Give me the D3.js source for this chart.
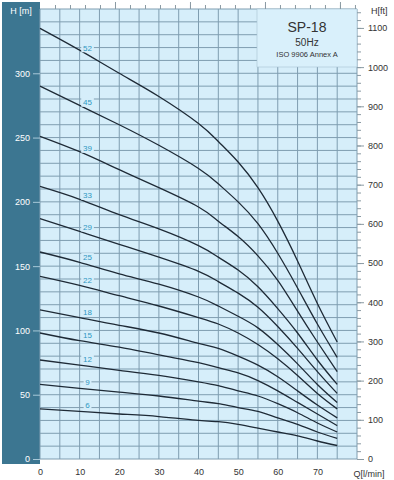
<!DOCTYPE html>
<html>
<head>
<meta charset="utf-8">
<script src="https://cdn.jsdelivr.net/npm/d3@7"></script>
<style>
  body { margin: 0; background: #fff; }
  svg { display: block; font-family: "Liberation Sans", Arial, sans-serif; }
</style>
</head>
<body>
<div class="chart"></div>
<script>
// flow points (l/min) where the curves were read
var flow = [0, 10, 20, 30, 40, 45, 50, 55, 60, 65, 70, 75]

// head in metres for each number of stages
var h52 = [335, 318, 300, 282, 261, 247, 231, 211, 185, 154, 121, 91]
var h45 = [290, 275, 260, 244, 226, 214, 200, 183, 160, 133, 105, 79]
var h39 = [251, 239, 225, 211, 196, 185, 173, 158, 139, 115, 91, 68]
var h33 = [212, 202, 190, 179, 166, 157, 147, 134, 117, 98, 77, 58]
var h29 = [187, 177, 167, 157, 146, 138, 129, 118, 103, 86, 68, 51]
var h25 = [161, 153, 144, 136, 126, 119, 111, 102, 89, 74, 58, 44]
var h22 = [142, 135, 127, 119, 110, 105, 98, 89, 78, 65, 51, 39]
var h18 = [116, 110, 104, 98, 90, 86, 80, 73, 64, 53, 42, 32]
var h15 = [98, 92, 87, 81, 75, 71, 67, 61, 53, 44, 35, 26]
var h12 = [77, 73, 69, 65, 60, 57, 53, 49, 43, 36, 28, 21]
var h9 = [58, 55, 52, 49, 45, 43, 40, 37, 32, 27, 21, 16]
var h6 = [39, 37, 35, 33, 30, 29, 27, 24, 21, 18, 14, 10.5]

var stages = ["52", "45", "39", "33", "29", "25", "22", "18", "15", "12", "9", "6"]
var heads = [h52, h45, h39, h33, h29, h25, h22, h18, h15, h12, h9, h6]

var xTicks = [0, 10, 20, 30, 40, 50, 60, 70]
var yTicks = [0, 50, 100, 150, 200, 250, 300]
var ftTicks = [0, 100, 200, 300, 400, 500, 600, 700, 800, 900, 1000, 1100]

var bg = "#d6eefa"
var gridColor = "#7f9db0"

var svg = d3.select(".chart")
    .append("svg")
    .attr("width", 394)
    .attr("height", 480)

var x = d3.scaleLinear().domain([0, 80]).range([40, 357])
var y = d3.scaleLinear().domain([0, 350]).range([459, 9])
var yFt = d3.scaleLinear().domain([0, 350 / 0.3048]).range([459, 9])
var xGpm = d3.scaleLinear().domain([0, 80 / 3.785]).range([40, 357])

// left panel
svg.append("rect")
    .attr("x", 2)
    .attr("y", 2)
    .attr("width", 38)
    .attr("height", 462)
    .attr("fill", "#3c7691")

// plot background
svg.append("rect")
    .attr("x", x(0))
    .attr("y", y(350))
    .attr("width", x(80) - x(0))
    .attr("height", y(0) - y(350))
    .attr("fill", bg)

// grid
svg.append("g").selectAll("line")
    .data(d3.range(0, 81, 5))
    .join("line")
    .attr("x1", d => x(d))
    .attr("x2", d => x(d))
    .attr("y1", y(0))
    .attr("y2", y(350))
    .style("stroke", gridColor)
    .style("stroke-width", 1)

svg.append("g").selectAll("line")
    .data(d3.range(0, 351, 10))
    .join("line")
    .attr("x1", x(0))
    .attr("x2", x(80))
    .attr("y1", d => y(d))
    .attr("y2", d => y(d))
    .style("stroke", gridColor)
    .style("stroke-width", 1)

// title box
svg.append("rect")
    .attr("x", 257)
    .attr("y", y(350))
    .attr("width", x(80) - 257)
    .attr("height", 58)
    .attr("fill", "#d9f0fb")
    .style("stroke", "#a9c4d2")
    .style("stroke-width", 0.6)

var cx = (257 + x(80)) / 2
svg.append("text").attr("x", cx).attr("y", 32).attr("text-anchor", "middle")
    .style("font-size", "14px").attr("fill", "#333").text("SP-18")
svg.append("text").attr("x", cx).attr("y", 45.5).attr("text-anchor", "middle")
    .style("font-size", "10px").attr("fill", "#333").text("50Hz")
svg.append("text").attr("x", cx).attr("y", 57).attr("text-anchor", "middle")
    .style("font-size", "7.5px").attr("fill", "#333").text("ISO 9906 Annex A")

// curves
var line = d3.line()
    .x((d, i) => x(flow[i]))
    .y(d => y(d))
    .curve(d3.curveNatural)

svg.append("g").selectAll("path")
    .data(heads)
    .join("path")
    .attr("d", d => line(d))
    .attr("fill", "none")
    .style("stroke", "#1e2a36")
    .style("stroke-width", 1.3)

// stage labels above each curve near Q = 12
var labelQ = 12
var labels = svg.append("g").selectAll("g")
    .data(heads)
    .join("g")
    .attr("transform", d => {
        var h = d[1] + (d[2] - d[1]) * (labelQ - flow[1]) / (flow[2] - flow[1])
        return "translate(" + x(labelQ) + "," + (y(h) - 7) + ")"
    })

labels.append("rect")
    .attr("x", (d, i) => -stages[i].length * 2.4 - 1.5)
    .attr("y", -4.5)
    .attr("width", (d, i) => stages[i].length * 4.8 + 3)
    .attr("height", 9)
    .attr("fill", bg)

labels.append("text")
    .attr("text-anchor", "middle")
    .attr("dy", "0.35em")
    .style("font-size", "8px")
    .attr("fill", "#2f98c2")
    .text((d, i) => stages[i])

// left axis (m)
var left = svg.append("g")
    .attr("transform", "translate(" + x(0) + ",0)")
    .call(d3.axisLeft(y).tickValues(yTicks).tickSize(7).tickPadding(3))
left.select(".domain").remove()
left.selectAll(".tick line").style("stroke", "#a7c8d8")
left.selectAll(".tick text").attr("fill", "#fff").style("font-size", "9px")
    .style("font-family", "Liberation Sans, Arial, sans-serif")

svg.append("text").attr("x", 21).attr("y", 14).attr("text-anchor", "middle")
    .style("font-size", "9px").attr("fill", "#fff").text("H [m]")

// bottom axis
var bottom = svg.append("g")
    .attr("transform", "translate(0," + y(0) + ")")
    .call(d3.axisBottom(x).tickValues(xTicks).tickSize(0).tickPadding(10))
bottom.select(".domain").remove()
bottom.selectAll(".tick text").attr("fill", "#333").style("font-size", "9px")
    .style("font-family", "Liberation Sans, Arial, sans-serif")

svg.append("text").attr("x", 369).attr("y", 477).attr("text-anchor", "middle")
    .style("font-size", "9px").attr("fill", "#333").text("Q[l/min]")

// right axis (ft)
var rightMinor = svg.append("g")
    .attr("transform", "translate(" + x(80) + ",0)")
    .call(d3.axisRight(yFt).tickValues(d3.range(0, 1141, 20)).tickSize(4).tickFormat(""))
rightMinor.select(".domain").remove()
rightMinor.selectAll(".tick line").style("stroke", "#8a9aa3")

var right = svg.append("g")
    .attr("transform", "translate(" + x(80) + ",0)")
    .call(d3.axisRight(yFt).tickValues(ftTicks).tickSize(7).tickPadding(4).tickFormat(d3.format("d")))
right.select(".domain").remove()
right.selectAll(".tick line").style("stroke", "#8a9aa3")
right.selectAll(".tick text").attr("fill", "#333").style("font-size", "9px")
    .style("font-family", "Liberation Sans, Arial, sans-serif")

svg.append("text").attr("x", 371).attr("y", 14)
    .style("font-size", "9px").attr("fill", "#333").text("H[ft]")

// top ticks (US gpm)
var topMinor = svg.append("g")
    .attr("transform", "translate(0," + y(350) + ")")
    .call(d3.axisTop(xGpm).tickValues(d3.range(1, 22)).tickSize(4).tickFormat(""))
topMinor.select(".domain").remove()
topMinor.selectAll(".tick line").style("stroke", "#8a9aa3")

var topMajor = svg.append("g")
    .attr("transform", "translate(0," + y(350) + ")")
    .call(d3.axisTop(xGpm).tickValues([5, 10, 15, 20]).tickSize(7).tickFormat(""))
topMajor.select(".domain").remove()
topMajor.selectAll(".tick line").style("stroke", "#8a9aa3")
</script>
</body>
</html>
